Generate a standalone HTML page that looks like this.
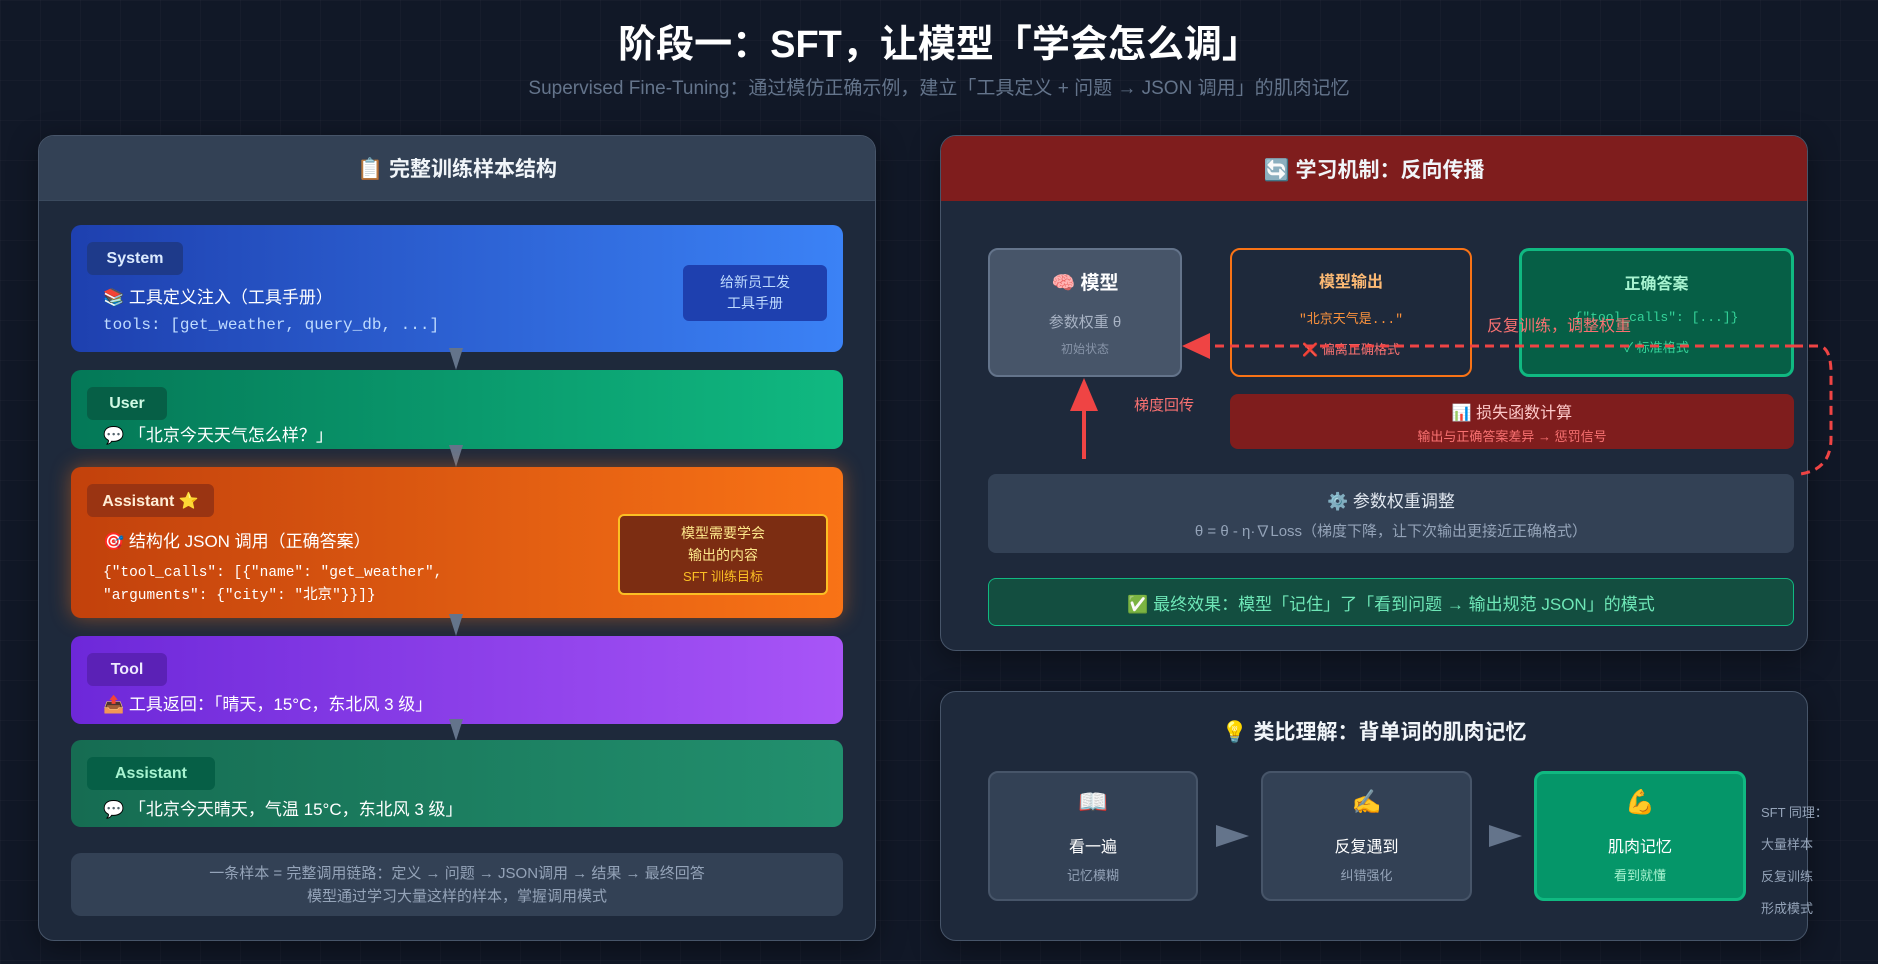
<!DOCTYPE html>
<html><head><meta charset="utf-8"><style>
*{box-sizing:border-box;margin:0;padding:0}
body{width:1878px;height:964px;overflow:hidden;background:#111827;font-family:"Liberation Sans","Noto Sans CJK SC",sans-serif;color:#e2e8f0;position:relative;
background-image:linear-gradient(rgba(255,255,255,0.025) 1px,transparent 1px),linear-gradient(90deg,rgba(255,255,255,0.025) 1px,transparent 1px);background-size:40px 40px;}
.a{position:absolute}
.mono{font-family:"Liberation Mono","Noto Sans CJK SC",monospace}
.panel{position:absolute;background:#1e293b;border:1.5px solid #475569;border-radius:16px;overflow:hidden;box-shadow:0 8px 30px rgba(0,0,0,.4)}
.hdr{position:absolute;left:0;right:0;top:0;height:65px;display:flex;align-items:center;justify-content:center;font-size:21px;font-weight:bold;color:#f1f5f9}
.row{position:absolute;left:71px;width:772px;border-radius:10px}
.pill{position:absolute;left:16px;height:33px;border-radius:6px;font-size:16px;font-weight:bold;display:flex;align-items:center;justify-content:center}
.tri{position:absolute;left:449px;width:0;height:0;border-left:7px solid transparent;border-right:7px solid transparent;border-top:22px solid #64748b}
.c{display:flex;flex-direction:column;align-items:center;justify-content:center;text-align:center}
</style></head><body>
<div class="a" style="left:0;width:1878px;top:13px;text-align:center;font-size:38px;font-weight:bold;color:#fff">阶段一：SFT，让模型「学会怎么调」</div>
<div class="a" style="left:0;width:1878px;top:73px;text-align:center;font-size:19px;color:#64748b">Supervised Fine-Tuning：通过模仿正确示例，建立「工具定义 + 问题 → JSON 调用」的肌肉记忆</div>

<!-- Left panel -->
<div class="panel" style="left:38px;top:135px;width:838px;height:806px">
 <div class="hdr" style="background:#334155;border-bottom:1px solid #3b4a5e">📋 完整训练样本结构</div>
</div>
<div class="row" style="top:225px;height:127px;background:linear-gradient(90deg,#1e40af,#3b82f6)">
 <div class="pill" style="top:17px;width:96px;background:#1e3a8a;color:#dbeafe">System</div>
 <div class="a" style="left:32px;top:58px;font-size:17px;color:#fff">📚 工具定义注入（工具手册）</div>
 <div class="a mono" style="left:32px;top:91px;font-size:16px;color:#bfdbfe">tools: [get_weather, query_db, ...]</div>
 <div class="a c" style="left:612px;top:40px;width:144px;height:56px;background:#1e40af;border-radius:6px;font-size:14px;color:#bfdbfe;line-height:21px">给新员工发<br>工具手册</div>
</div>
<div class="tri" style="top:348px"></div>
<div class="row" style="top:370px;height:79px;background:linear-gradient(90deg,#047857,#10b981)">
 <div class="pill" style="top:17px;width:80px;background:#065f46;color:#d1fae5">User</div>
 <div class="a" style="left:32px;top:51px;font-size:17px;color:#fff">💬 「北京今天天气怎么样？」</div>
</div>
<div class="tri" style="top:445px"></div>
<div class="row" style="top:467px;height:151px;background:linear-gradient(90deg,#c2410c,#f97316);box-shadow:0 0 20px rgba(249,115,22,.45)">
 <div class="pill" style="top:17px;width:127px;background:#9a3412;color:#ffedd5">Assistant ⭐</div>
 <div class="a" style="left:32px;top:60px;font-size:17px;color:#fff">🎯 结构化 JSON 调用（正确答案）</div>
 <div class="a mono" style="left:32px;top:95px;font-size:14.5px;color:#fff;line-height:23px">{"tool_calls": [{"name": "get_weather",<br>"arguments": {"city": "北京"}}]}</div>
 <div class="a c" style="left:547px;top:47px;width:210px;height:81px;background:#7c2d12;border:2px solid #fbbf24;border-radius:6px;color:#fde68a;font-size:14px;line-height:22px">模型需要学会<br>输出的内容<br><span style="font-size:13px;color:#fbbf24">SFT 训练目标</span></div>
</div>
<div class="tri" style="top:614px"></div>
<div class="row" style="top:636px;height:88px;background:linear-gradient(90deg,#6d28d9,#a855f7)">
 <div class="pill" style="top:17px;width:80px;background:#5b21b6;color:#ede9fe">Tool</div>
 <div class="a" style="left:32px;top:54px;font-size:17px;color:#fff">📤 工具返回：「晴天，15°C，东北风 3 级」</div>
</div>
<div class="tri" style="top:719px"></div>
<div class="row" style="top:740px;height:87px;background:linear-gradient(90deg,#166c52,#22906e)">
 <div class="pill" style="top:17px;width:128px;background:#065f46;color:#a7f3d0">Assistant</div>
 <div class="a" style="left:32px;top:55px;font-size:17px;color:#fff">💬 「北京今天晴天，气温 15°C，东北风 3 级」</div>
</div>
<div class="row c" style="top:853px;height:63px;background:#334155;font-size:15px;color:#94a3b8;line-height:23px">一条样本 = 完整调用链路：定义 → 问题 → JSON调用 → 结果 → 最终回答<br>模型通过学习大量这样的样本，掌握调用模式</div>

<!-- Right top panel -->
<div class="panel" style="left:940px;top:135px;width:868px;height:516px">
 <div class="hdr" style="background:#7f1d1d">🔄 学习机制：反向传播</div>
</div>
<div class="a c" style="left:988px;top:248px;width:194px;height:129px;background:#475569;border:2px solid #64748b;border-radius:10px">
 <div style="font-size:19px;font-weight:bold;color:#fff">🧠 模型</div>
 <div style="font-size:15px;color:#a8b3c4;margin-top:16px">参数权重 θ</div>
 <div style="font-size:12px;color:#8794a8;margin-top:8px">初始状态</div>
</div>
<div class="a c" style="left:1230px;top:248px;width:242px;height:129px;background:#1e293b;border:2px solid #f97316;border-radius:10px">
 <div style="font-size:16px;font-weight:bold;color:#fdba74">模型输出</div>
 <div class="mono" style="font-size:13px;color:#fb923c;margin-top:16px">"北京天气是..."</div>
 <div style="font-size:13px;color:#f87171;margin-top:12px">❌ 偏离正确格式</div>
</div>
<div class="a c" style="left:1519px;top:248px;width:275px;height:129px;background:#065f46;border:3px solid #10b981;border-radius:10px">
 <div style="font-size:16px;font-weight:bold;color:#a7f3d0">正确答案</div>
 <div class="mono" style="font-size:13px;color:#34d399;margin-top:16px">{"tool_calls": [...]}</div>
 <div style="font-size:13px;color:#34d399;margin-top:12px">✓ 标准格式</div>
</div>
<svg class="a" style="left:0;top:0" width="1878" height="964">
 <path d="M1794 346 L1818 346 Q1830 346 1831 370 L1831 440 Q1830 470 1800 474" fill="none" stroke="#ef4444" stroke-width="3" stroke-dasharray="9,6"/>
 <line x1="1794" y1="346" x2="1200" y2="346" stroke="#ef4444" stroke-width="3" stroke-dasharray="9,6"/>
 <polygon points="1182,346 1210,333 1210,359" fill="#ef4444"/>
 <line x1="1084" y1="459" x2="1084" y2="410" stroke="#ef4444" stroke-width="4"/>
 <polygon points="1084,378 1070,411 1098,411" fill="#ef4444"/>
</svg>
<div class="a" style="left:1487px;top:312px;font-size:16px;color:#f87171">反复训练，调整权重</div>
<div class="a" style="left:1134px;top:394px;font-size:15px;color:#f87171">梯度回传</div>
<div class="a c" style="left:1230px;top:394px;width:564px;height:55px;background:#7f1d1d;border-radius:8px">
 <div style="font-size:16px;color:#fecaca">📊 损失函数计算</div>
 <div style="font-size:13px;color:#f87171;margin-top:3px">输出与正确答案差异 → 惩罚信号</div>
</div>
<div class="a c" style="left:988px;top:474px;width:806px;height:79px;background:#334155;border-radius:8px">
 <div style="font-size:17px;color:#e2e8f0">⚙️ 参数权重调整</div>
 <div style="font-size:15px;color:#94a3b8;margin-top:8px">θ = θ - η·∇Loss（梯度下降，让下次输出更接近正确格式）</div>
</div>
<div class="a c" style="left:988px;top:578px;width:806px;height:48px;background:#134e40;border:1.5px solid #10b981;border-radius:8px;font-size:17px;color:#6ee7b7">✅ 最终效果：模型「记住」了「看到问题 → 输出规范 JSON」的模式</div>

<!-- Right bottom panel -->
<div class="panel" style="left:940px;top:691px;width:868px;height:250px">
 <div class="a" style="left:0;right:0;top:24px;text-align:center;font-size:21px;font-weight:bold;color:#f1f5f9">💡 类比理解：背单词的肌肉记忆</div>
</div>
<div class="a c" style="left:988px;top:771px;width:210px;height:130px;background:#334155;border:2px solid #475569;border-radius:10px">
 <div style="font-size:24px">📖</div><div style="font-size:16px;color:#fff;margin-top:16px">看一遍</div><div style="font-size:13px;color:#94a3b8;margin-top:8px">记忆模糊</div>
</div>
<div class="a c" style="left:1261px;top:771px;width:211px;height:130px;background:#334155;border:2px solid #475569;border-radius:10px">
 <div style="font-size:24px">✍️</div><div style="font-size:16px;color:#fff;margin-top:16px">反复遇到</div><div style="font-size:13px;color:#94a3b8;margin-top:8px">纠错强化</div>
</div>
<div class="a c" style="left:1534px;top:771px;width:212px;height:130px;background:#059669;border:3px solid #10b981;border-radius:10px">
 <div style="font-size:24px">💪</div><div style="font-size:16px;color:#fff;margin-top:16px">肌肉记忆</div><div style="font-size:13px;color:#a7f3d0;margin-top:8px">看到就懂</div>
</div>
<svg class="a" style="left:0;top:0" width="1878" height="964">
 <polygon points="1216,825 1249,836 1216,847" fill="#64748b"/>
 <polygon points="1489,825 1522,836 1489,847" fill="#64748b"/>
</svg>
<div class="a" style="left:1761px;top:797px;font-size:13px;color:#94a3b8;line-height:32px">SFT 同理：<br>大量样本<br>反复训练<br>形成模式</div>
</body></html>
